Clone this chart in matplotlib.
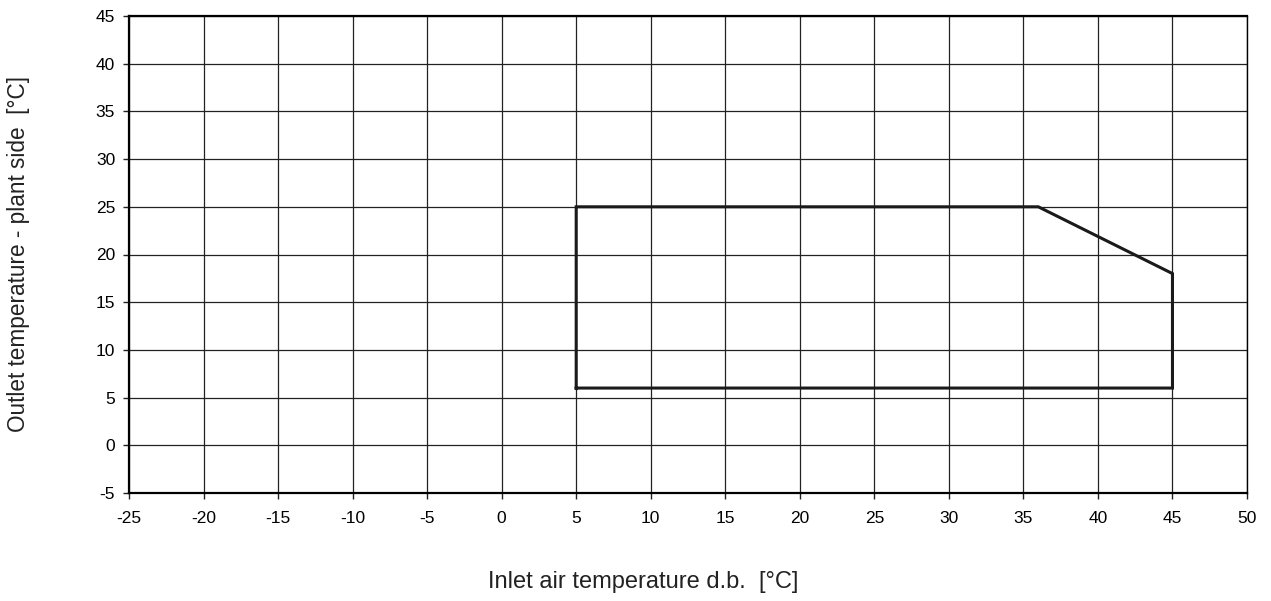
import matplotlib
matplotlib.use("Agg")
import matplotlib.pyplot as plt
import numpy as np

plt.rcParams['font.family'] = ['Liberation Sans', 'DejaVu Sans']
plt.rcParams['axes.unicode_minus'] = False

# Operating envelope (inlet air temp, outlet water temp)
env_x = [5, 5, 36, 45, 45, 5]
env_y = [6, 25, 25, 18, 6, 6]

x_ticks = np.arange(-25, 51, 5)
y_ticks = np.arange(-5, 46, 5)

fig = plt.figure(figsize=(12.71, 6.01), dpi=100)
ax = fig.add_axes([129 / 1271, 1 - 493 / 601, (1247 - 129) / 1271, (493 - 16) / 601])

ax.set_xlim(-25, 50)
ax.set_ylim(-5, 45)
ax.set_xticks(x_ticks)
ax.set_yticks(y_ticks)
ax.grid(True, color='#222222', linewidth=0.9)
ax.set_axisbelow(True)

ax.plot(env_x, env_y, color='#1a1a1a', linewidth=2.2, solid_joinstyle='miter')

for side in ['left', 'bottom', 'top']:
    ax.spines[side].set_linewidth(1.6)
ax.spines['right'].set_linewidth(1.0)
ax.tick_params(direction='out', length=4, width=1, labelsize=12.5, color='#222222')
ax.tick_params(axis='x', pad=9)
ax.tick_params(axis='y', pad=6)

fig.text(643 / 1271, 1 - 582 / 601, 'Inlet air temperature d.b.  [°C]',
         ha='center', va='center', fontsize=17, color='#222222')
fig.text(19 / 1271, 1 - 254 / 601, 'Outlet temperature - plant side  [°C]',
         ha='center', va='center', rotation=90, fontsize=16.3, color='#222222')

fig.savefig('out.png', dpi=100)
